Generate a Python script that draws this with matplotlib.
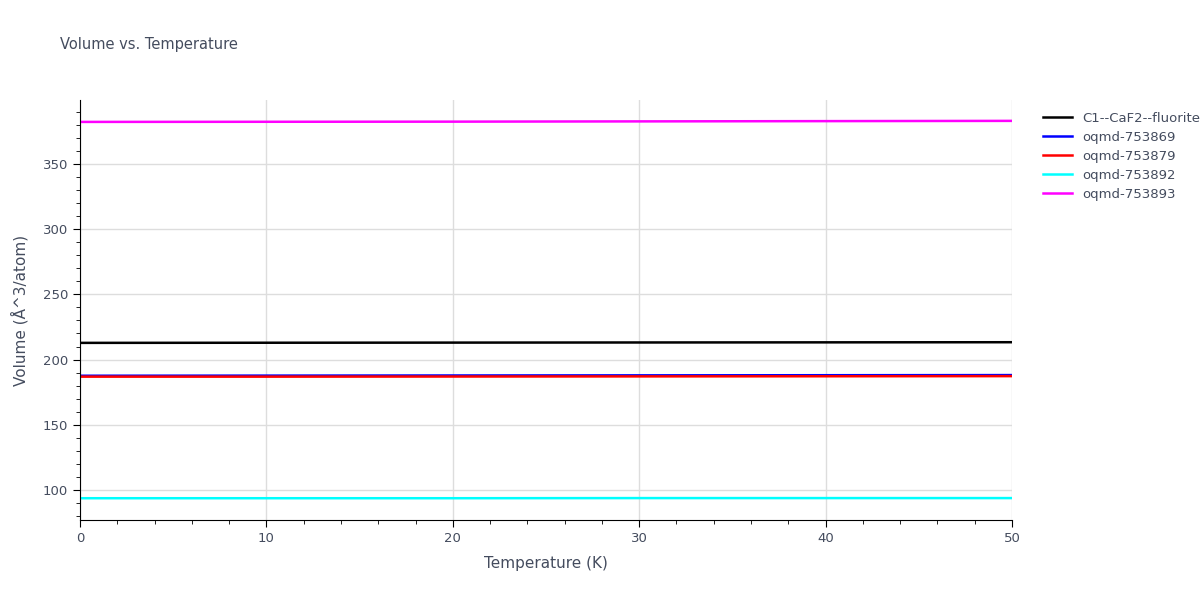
import matplotlib
matplotlib.use("Agg")
import matplotlib.pyplot as plt
from matplotlib.ticker import MultipleLocator

temps = [0, 10, 20, 30, 40, 50]
names = ["C1--CaF2--fluorite", "oqmd-753869", "oqmd-753879", "oqmd-753892", "oqmd-753893"]
colors = ["black", "blue", "red", "cyan", "magenta"]
vols = [
    [212.8, 212.9, 213.0, 213.1, 213.2, 213.3],
    [187.6, 187.7, 187.8, 187.9, 188.0, 188.1],
    [186.9, 186.9, 187.0, 187.1, 187.2, 187.3],
    [93.7, 93.7, 93.7, 93.8, 93.8, 93.8],
    [382.2, 382.3, 382.4, 382.6, 382.8, 383.0],
]

fig = plt.figure(figsize=(12, 6), dpi=100)
ax = fig.add_axes([80/1200, 80/600, 932/1200, 420/600])
for n, c, v in zip(names, colors, vols):
    ax.plot(temps, v, color=c, lw=1.8, label=n)
ax.set_xlim(0, 50)
ax.set_ylim(77, 399)
ax.xaxis.set_major_locator(MultipleLocator(10))
ax.xaxis.set_minor_locator(MultipleLocator(2))
ax.yaxis.set_major_locator(MultipleLocator(50))
ax.yaxis.set_minor_locator(MultipleLocator(10))
ax.grid(True, which="major", color="#dddddd", lw=1)
for s in ["top", "right"]:
    ax.spines[s].set_visible(False)
ax.spines["left"].set_color("black")
ax.spines["bottom"].set_color("black")
tc = "#444c5e"
ax.tick_params(which="major", length=5, colors=tc, labelsize=9.5)
ax.tick_params(which="minor", length=3, color="black")
ax.tick_params(which="major", color="black")
ax.set_xlabel("Temperature (K)", color=tc, fontsize=11, labelpad=8)
ax.set_ylabel("Volume (Å^3/atom)", color=tc, fontsize=11, labelpad=10)
fig.text(60/1200, 1-45/600, "Volume vs. Temperature", color=tc, fontsize=10.5, va="center")
leg = ax.legend(loc="upper left", bbox_to_anchor=(1.02, 1.0), frameon=False, fontsize=9.5,
                handlelength=2.2, labelspacing=0.45)
for t in leg.get_texts():
    t.set_color(tc)
fig.savefig("out.png")
